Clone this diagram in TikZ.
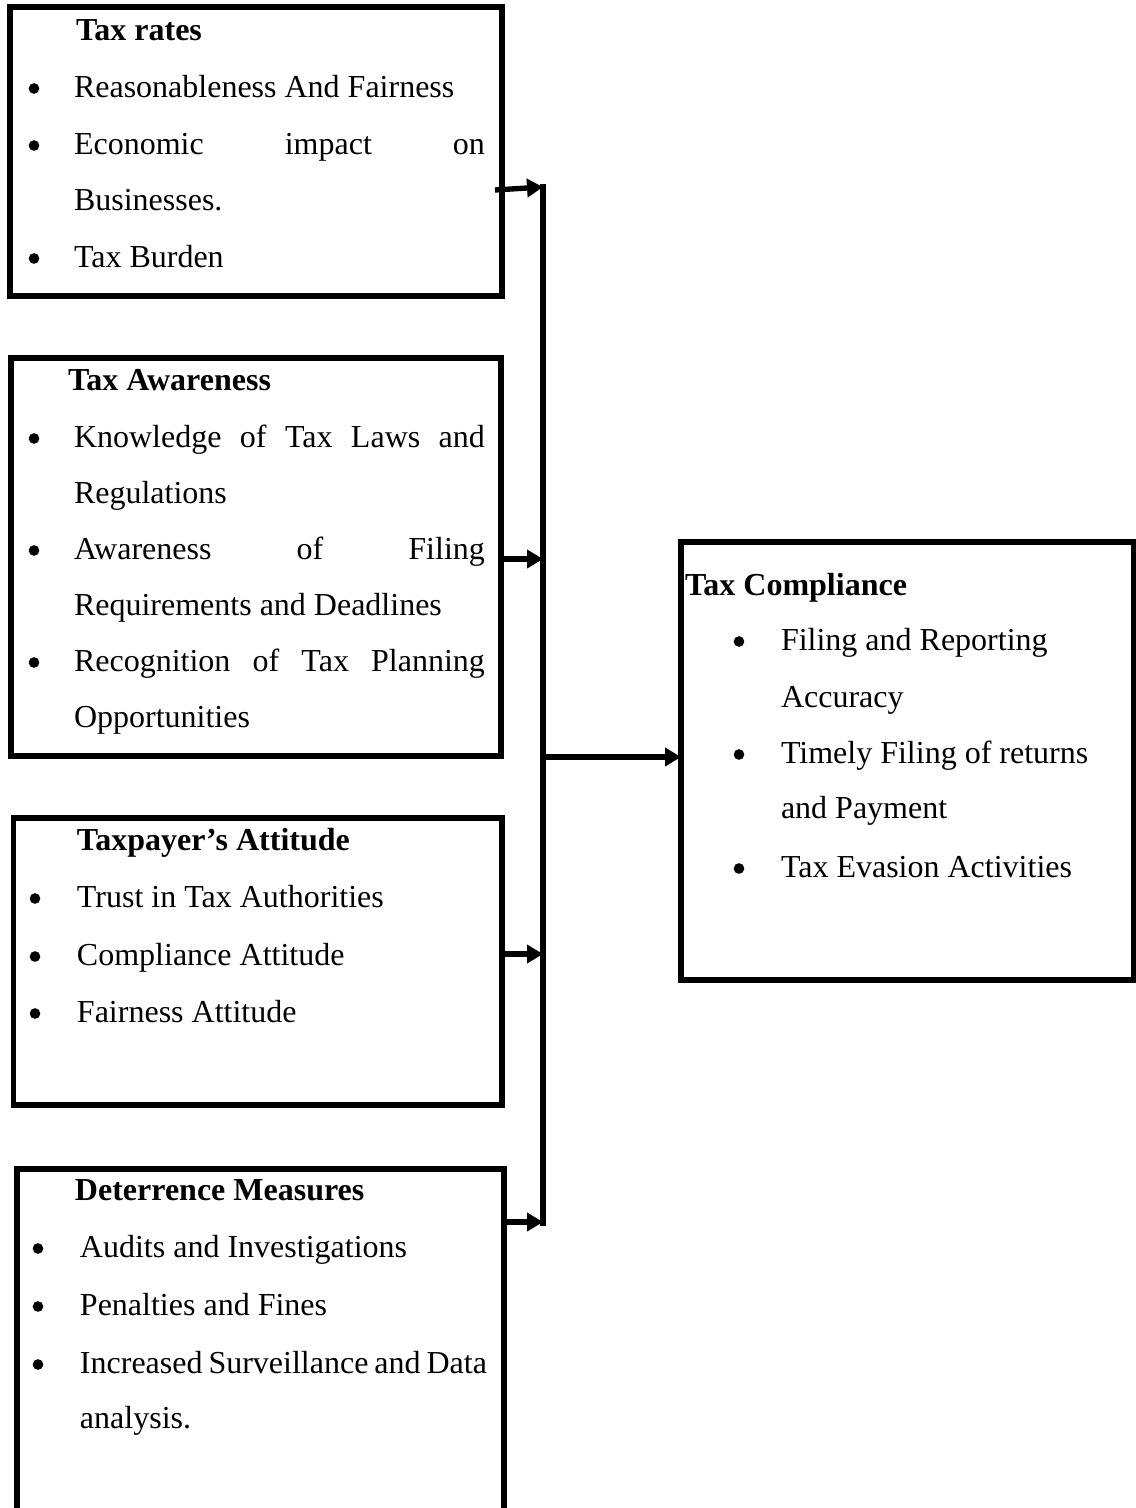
\documentclass[tikz,border=0pt]{standalone}
\usepackage{fontspec}
\setmainfont{Liberation Serif}
\usetikzlibrary{arrows.meta,calc}
\tikzset{
  box/.style={draw, line width=2pt, inner sep=0pt, outer sep=0pt, rectangle},
  txt/.style={anchor=base west, inner sep=0pt, outer sep=0pt, font=\fontsize{12pt}{14pt}\selectfont},
  ttl/.style={anchor=base west, inner sep=0pt, outer sep=0pt, font=\fontsize{12pt}{14pt}\selectfont\bfseries},
  bul/.style={circle, fill, draw=none, inner sep=0pt, outer sep=0pt, minimum size=4pt},
  conn/.style={line width=2pt},
  arr/.style={line width=2pt, -{Triangle[length=6pt,width=6.75pt]}},
}
\newcommand\bx[5]{\node[box, minimum width={(#4-#2)*0.375pt}, minimum height={(#5-#3)*0.375pt}] (#1) at ({(#2+#4)/2},{(#3+#5)/2}) {};}
\newcommand\bline[5]{\node[bul] (#1b) at (#2,{#4-8.5}) {}; \node[txt] (#1) at (#3,#4) {#5};}
\newcommand\tline[4]{\node[txt] (#1) at (#2,#3) {#4};}
\newcommand\jl[1]{\makebox[154.1pt][s]{#1}}
\begin{document}
\begin{tikzpicture}[x=0.375pt,y=-0.375pt]
\useasboundingbox (0,0) rectangle (1136,1508);
\clip (0,0) rectangle (1136,1508);
% boxes
\bx{b1}{10}{7}{502}{296}
\bx{b2}{11}{358}{501}{756}
\bx{b3}{13.5}{818}{502}{1105}
\bx{b4}{17}{1169}{504}{1560}
\bx{b5}{681}{542}{1134}{980}
% box 1
\node[ttl] (t1) at (76,40) {Tax rates};
\bline{a1}{34}{74}{97}{Reasonableness And Fairness}
\bline{a2}{34}{74}{154}{\jl{Economic impact on}}
\tline{a2c}{74}{210}{Businesses.}
\bline{a3}{34}{74}{267}{Tax Burden}
% box 2
\node[ttl] (t2) at (68,390) {Tax Awareness};
\bline{c1}{34}{74}{447}{\jl{Knowledge of Tax Laws and}}
\tline{c1c}{74}{503}{Regulations}
\bline{c2}{34}{74}{559}{\jl{Awareness of Filing}}
\tline{c2c}{74}{615}{Requirements and Deadlines}
\bline{c3}{34}{74}{671}{\jl{Recognition of Tax Planning}}
\tline{c3c}{74}{727}{Opportunities}
% box 3
\node[ttl] (t3) at (77,850) {Taxpayer’s Attitude};
\bline{d1}{35}{77}{907}{Trust in Tax Authorities}
\bline{d2}{35}{77}{965}{Compliance Attitude}
\bline{d3}{35}{77}{1022}{Fairness Attitude}
% box 4
\node[ttl] (t4) at (75,1200) {Deterrence Measures};
\bline{e1}{38}{80}{1257}{Audits and Investigations}
\bline{e2}{38}{80}{1315}{Penalties and Fines}
\bline{e3}{38}{80}{1373}{\makebox[152.6pt][s]{Increased Surveillance and Data}}
\tline{e3c}{80}{1428}{analysis.}
% box 5
\node[ttl] (t5) at (685,595) {Tax Compliance};
\bline{f1}{739}{781}{650}{Filing and Reporting}
\tline{f1c}{781}{707}{Accuracy}
\bline{f2}{739}{781}{763}{Timely Filing of returns}
\tline{f2c}{781}{818}{and Payment}
\bline{f3}{739}{781}{877}{Tax Evasion Activities}
% connectors
\coordinate (vt) at (543,184);
\coordinate (vb) at (543,1226);
\coordinate (j1) at (543,187);
\coordinate (j2) at (543,559);
\coordinate (j3) at (543,954);
\coordinate (j4) at (543,1222);
\coordinate (jm) at (543,757);
\draw[conn] (vt) -- (vb);
\draw[arr] ($(b1.east|-j1)+(-7,3)$) -- (j1);
\draw[arr] (b2.east|-j2) -- (j2);
\draw[arr] (b3.east|-j3) -- (j3);
\draw[arr] (b4.east|-j4) -- (j4);
\draw[arr] (jm) -- (b5.west|-jm);
\end{tikzpicture}
\end{document}
